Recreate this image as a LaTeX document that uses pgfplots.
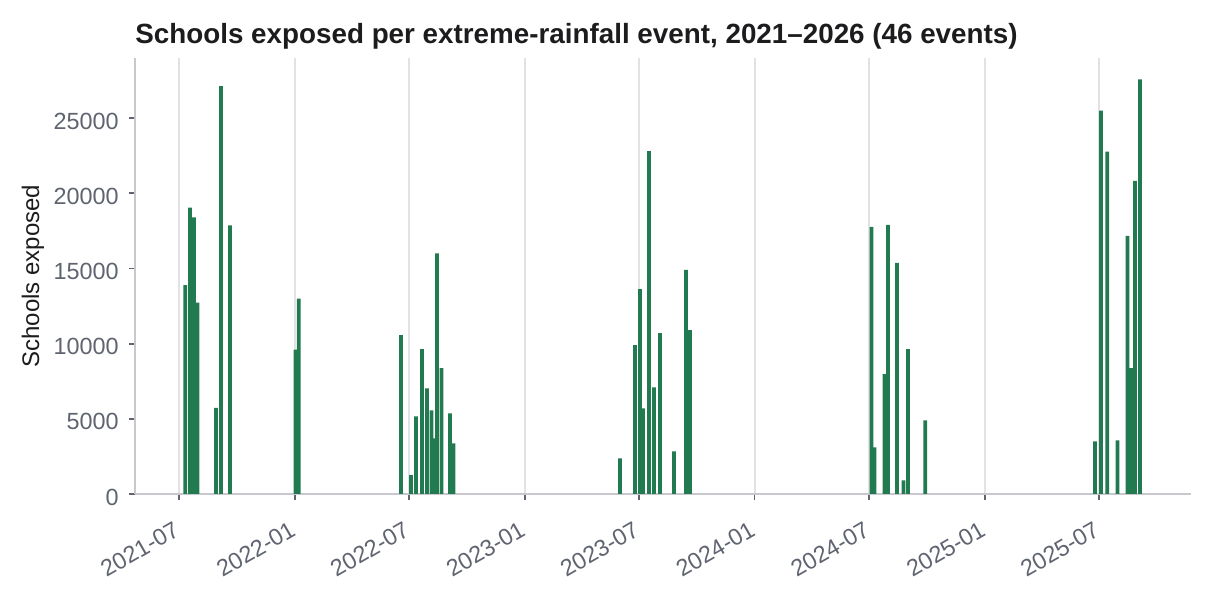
\documentclass[border=0pt]{standalone}
\usepackage{pgfplots}
\pgfplotsset{compat=1.18}
\usepackage{pgfplotstable}
\usepackage{fontspec}
\setmainfont{Liberation Sans}
\definecolor{barc}{HTML}{217A50}
\definecolor{gridc}{HTML}{E2E2E6}
\definecolor{spinec}{HTML}{C8C8CE}
\definecolor{ticklab}{HTML}{5F6470}
\definecolor{titlec}{HTML}{1C1C1E}

% x = days since 2021-07-01
\pgfplotstableread{
x y
9.8 13900
17.5 19050
23.8 18400
29.4 12730
58.8 5730
66.7 27130
81 17870
185 9600
190 13000
352.5 10570
368.4 1250
376.4 5170
385.9 9630
393.8 7030
401 5570
405 3700
409.7 16000
416.9 8370
430.4 5370
435.9 3370
700.3 2370
724.2 9900
732.1 13630
736.9 5700
746.4 22800
754.3 7100
763.9 10700
786.1 2830
805.2 14900
811.5 10900
1099.7 17770
1104.5 3100
1120.4 7970
1125.9 17900
1140.2 15370
1150.5 900
1157.7 9630
1185.2 4900
1454.7 3500
1464.2 25500
1474 22770
1490.4 3570
1506.3 17170
1511.8 8370
1518.2 20830
1526.1 27570
}\events

\begin{document}
\begin{tikzpicture}
\path[use as bounding box] (0,0) rectangle (603.5pt,297.5pt);
\begin{axis}[
  at={(67.5pt,50.5pt)}, anchor=south west,
  scale only axis, width=527.85pt, height=218pt,
  xmin=-69.9, xmax=1606.7, ymin=0, ymax=29000,
  axis x line*=bottom, axis y line*=left,
  axis line style={spinec, line width=1pt, -},
  xtick={0,184,365,549,730,914,1096,1280,1461},
  xticklabels={2021-07,2022-01,2022-07,2023-01,2023-07,2024-01,2024-07,2025-01,2025-07},
  ytick={0,5000,10000,15000,20000,25000},
  scaled y ticks=false,
  xmajorgrids, grid style={gridc, line width=1pt},
  tick align=outside, major tick length=3pt,
  tick style={ticklab, line width=0.9pt},
  /pgf/number format/assume math mode=true,
  /pgf/number format/set thousands separator={},
  tick label style={font=\fontsize{11.7}{14}\selectfont, text=ticklab},
  yticklabel style={anchor=east, inner sep=0pt, xshift=-5pt, yshift=-1.5pt},
  xticklabel style={xshift=-3pt, yshift=-10pt, rotate=30, anchor=north east, inner sep=0pt},
  ylabel={Schools exposed},
  every axis y label/.style={at={(axis description cs:0,0.5)}, xshift=-51pt, rotate=90, anchor=center, font=\fontsize{12}{14}\selectfont, text=titlec},
]
\addplot[ybar, bar width=6, fill=barc, draw=none] table[x=x,y=y] {\events};
\end{axis}
\node[anchor=base west, inner sep=0pt, font=\bfseries\fontsize{13.9}{16}\selectfont, text=titlec] at (67.5pt,275.6pt) {Schools exposed per extreme-rainfall event, 2021–2026 (46 events)};
\end{tikzpicture}
\end{document}
